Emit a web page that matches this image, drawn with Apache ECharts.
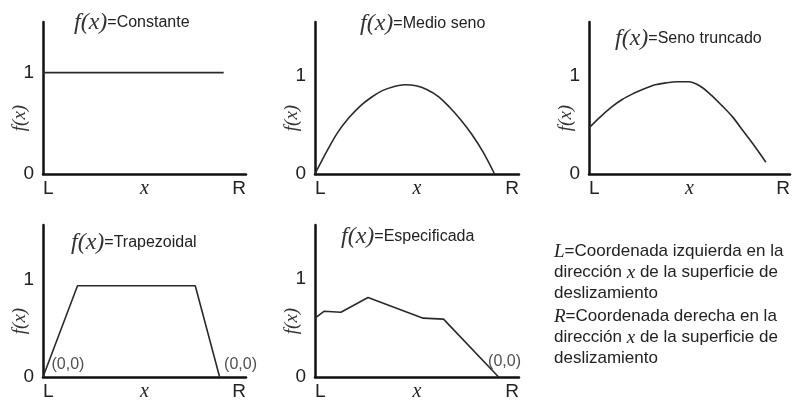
<!DOCTYPE html>
<html>
<head>
<meta charset="utf-8">
<script src="https://cdn.jsdelivr.net/npm/echarts@6/dist/echarts.min.js"></script>
<style>
  html, body { margin: 0; padding: 0; background: #fff; }
  #chart { width: 793px; height: 403px; }
</style>
</head>
<body>
<div id="chart"></div>
<script>
// x runs from L (0) to R (1); y is the value of f(x)
const constX = [0, 0.89];
const constY = [1, 1];

const halfSineX = [0, 0.055, 0.11, 0.165, 0.22, 0.275, 0.33, 0.385, 0.44, 0.495, 0.55, 0.605, 0.66, 0.715, 0.77, 0.825, 0.88];
const halfSineY = [0, 0.22, 0.42, 0.57, 0.69, 0.78, 0.85, 0.89, 0.91, 0.90, 0.86, 0.79, 0.68, 0.55, 0.40, 0.22, 0];

const truncX = [0, 0.055, 0.11, 0.165, 0.22, 0.275, 0.33, 0.385, 0.44, 0.495, 0.55, 0.605, 0.66, 0.715, 0.77, 0.825, 0.88];
const truncY = [0.47, 0.58, 0.68, 0.76, 0.82, 0.87, 0.91, 0.93, 0.94, 0.94, 0.90, 0.81, 0.70, 0.58, 0.43, 0.28, 0.12];

const trapX = [0, 0.17, 0.75, 0.87];
const trapY = [0, 0.94, 0.94, 0];

const specX = [0, 0.044, 0.127, 0.26, 0.53, 0.63, 0.90];
const specY = [0.60, 0.67, 0.66, 0.81, 0.60, 0.59, 0];

const panelTitles = ['Constante', 'Medio seno', 'Seno truncado', 'Trapezoidal', 'Especificada'];
const yTicks = [0, 1];
const xTickNames = ['L', 'x', 'R'];
const originLabel = '(0,0)';
const noteL = ['Coordenada izquierda en la', 'dirección ', ' de la superficie de', 'deslizamiento'];
const noteR = ['Coordenada derecha en la', 'dirección ', ' de la superficie de', 'deslizamiento'];

const SANS = 'Liberation Sans, Arial, sans-serif';
const SERIF = 'Liberation Serif, Times New Roman, serif';
const INK = '#222';

const pairs = (xs, ys) => xs.map((x, i) => [x, ys[i]]);

// panel frames (axis origin, extent) and y-range per panel
const frames = [
  { left: 43,  top: 22,  width: 203, height: 152, yMax: 1.5 },
  { left: 315, top: 22,  width: 204, height: 152, yMax: 1.55 },
  { left: 589, top: 22,  width: 203, height: 152, yMax: 1.55 },
  { left: 43,  top: 225, width: 203, height: 152, yMax: 1.567 },
  { left: 315, top: 225, width: 204, height: 152, yMax: 1.55 }
];
const titlePos = [
  { left: 69,  top: 6 },
  { left: 355, top: 7 },
  { left: 610, top: 22 },
  { left: 66,  top: 226 },
  { left: 336, top: 220 }
];

const grids = frames.map(f => ({ left: f.left, top: f.top, width: f.width, height: f.height, containLabel: false }));

const xAxes = frames.map((f, i) => ({
  type: 'value', gridIndex: i, min: 0, max: 1, interval: 0.5,
  axisLine: { show: true, onZero: false, lineStyle: { color: '#111', width: 2.5 } },
  axisTick: { show: false }, splitLine: { show: false },
  axisLabel: {
    margin: 5, color: INK, fontFamily: SANS, fontSize: 19,
    alignMinLabel: 'left', alignMaxLabel: 'right',
    formatter: v => v === 0 ? xTickNames[0] : (v === 1 ? xTickNames[2] : '{i|' + xTickNames[1] + '}'),
    rich: { i: { fontFamily: SERIF, fontStyle: 'italic', fontSize: 20, color: INK } }
  }
}));

const yAxes = frames.map((f, i) => ({
  type: 'value', gridIndex: i, min: 0, max: f.yMax, interval: 1,
  axisLine: { show: true, onZero: false, lineStyle: { color: '#111', width: 2.5 } },
  axisTick: { show: false }, splitLine: { show: false },
  axisLabel: {
    margin: 9, color: INK, fontFamily: SANS, fontSize: 19,
    showMaxLabel: false,
    formatter: v => yTicks.indexOf(v) >= 0 ? String(v) : ''
  },
  name: 'f(x)', nameLocation: 'middle', nameRotate: 90, nameGap: 14, nameMoveOverlap: false,
  nameTextStyle: { fontFamily: SERIF, fontStyle: 'italic', fontSize: 19, color: '#333', padding: [0, 40, 0, 0] }
}));

const curveStyle = { color: '#2a2a2a', width: 1.6 };
const lineSeries = (idx, data, smooth) => ({
  type: 'line', xAxisIndex: idx, yAxisIndex: idx, data, smooth: smooth ? 0.35 : false,
  showSymbol: false, symbol: 'none', lineStyle: curveStyle, silent: true, animation: false
});

// "(0,0)" annotations anchored on the end points that touch the x axis
const originMarks = (idx, points, offsets) => ({
  type: 'scatter', xAxisIndex: idx, yAxisIndex: idx, symbolSize: 1,
  itemStyle: { color: 'rgba(0,0,0,0)' }, silent: true, animation: false,
  data: points.map((p, k) => ({
    value: p,
    label: {
      show: true, formatter: originLabel, position: offsets[k],
      align: 'left', verticalAlign: 'middle',
      fontFamily: SANS, fontSize: 16, color: INK
    }
  }))
});

const titles = panelTitles.map((t, i) => ({
  text: '{f|f(x)}{t|=' + t + '}', left: titlePos[i].left, top: titlePos[i].top,
  textStyle: { fontWeight: 'normal', rich: {
    f: { fontFamily: SERIF, fontStyle: 'italic', fontWeight: 'normal', fontSize: 24, color: '#333' },
    t: { fontFamily: SANS, fontWeight: 'normal', fontSize: 16, color: INK }
  } }
}));

const noteRich = {
  v: { fontFamily: SERIF, fontStyle: 'italic', fontWeight: 'normal', fontSize: 19, color: INK, lineHeight: 21 },
  t: { fontFamily: SANS, fontWeight: 'normal', fontSize: 17, color: INK, lineHeight: 21 }
};
const noteText = (sym, n) =>
  '{v|' + sym + '}{t|=' + n[0] + '}\n{t|' + n[1] + '}{v|x}{t|' + n[2] + '}\n{t|' + n[3] + '}';
titles.push({ text: noteText('L', noteL), left: 549, top: 236, textStyle: { fontWeight: 'normal', rich: noteRich } });
titles.push({ text: noteText('R', noteR), left: 549, top: 301, textStyle: { fontWeight: 'normal', rich: noteRich } });

const option = {
  backgroundColor: '#fff',
  animation: false,
  title: titles,
  grid: grids,
  xAxis: xAxes,
  yAxis: yAxes,
  series: [
    lineSeries(0, pairs(constX, constY), false),
    lineSeries(1, pairs(halfSineX, halfSineY), true),
    lineSeries(2, pairs(truncX, truncY), true),
    lineSeries(3, pairs(trapX, trapY), false),
    lineSeries(4, pairs(specX, specY), false),
    originMarks(3, [[trapX[0], trapY[0]], [trapX[3], trapY[3]]], [[9, -12], [5, -12]]),
    originMarks(4, [[specX[6], specY[6]]], [[-10, -15]])
  ]
};

echarts.init(document.getElementById('chart'), null, { renderer: 'canvas' }).setOption(option);
</script>
</body>
</html>
